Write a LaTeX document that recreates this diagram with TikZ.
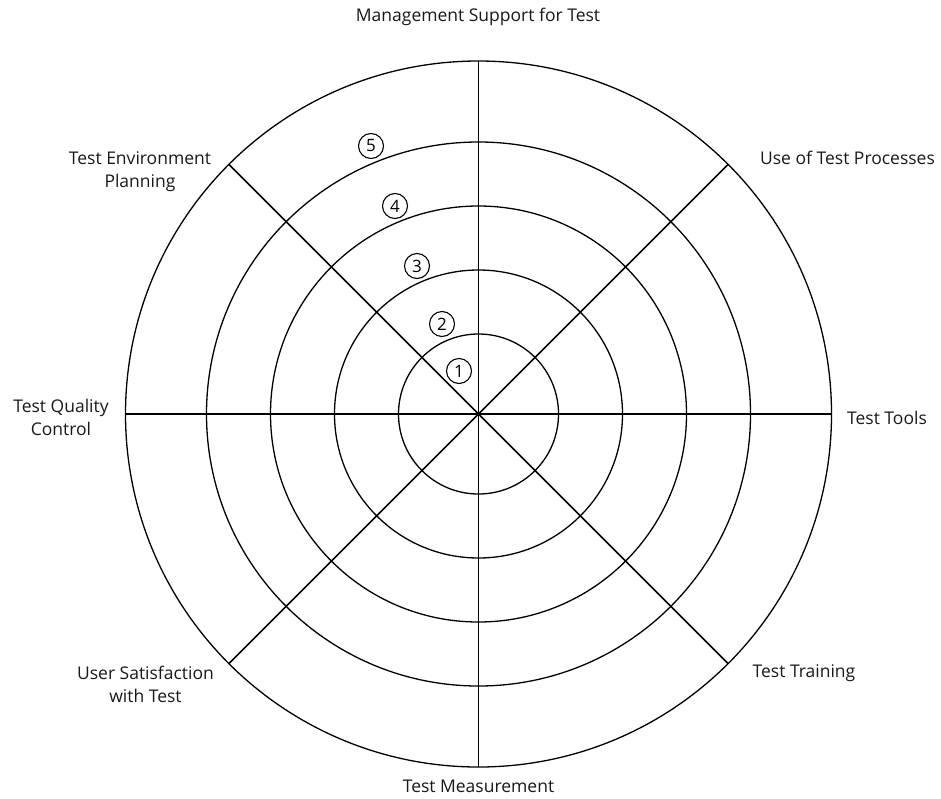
\documentclass[tikz,border=0pt]{standalone}
\usepackage{fontspec}
\setmainfont{Open Sans}
\usetikzlibrary{calc}
\begin{document}
\begin{tikzpicture}[x=1pt,y=-1pt,
  ring/.style={draw=black,line width=1.3pt},
  spoke/.style={draw=black,line width=1.5pt},
  axislabel/.style={font=\fontsize{17.5}{23}\selectfont,align=center,inner sep=0pt,text=black!90},
  level/.style={circle,draw=black,line width=1.1pt,minimum size=25pt,inner sep=0pt,font=\fontsize{17}{17}\selectfont}]
\useasboundingbox (0,0) rectangle (941,798);
\coordinate (c) at (478.5,414);
% concentric rings
\foreach \r in {80,144,208,272,353}
  \draw[ring] (c) circle[radius=\r];
% eight spokes across the whole wheel
\foreach \a in {0,45,90,135}{
  \coordinate (p\a) at ($(c)+(\a:353)$);
  \coordinate (q\a) at ($(c)+(\a+180:353)$);
  \draw[spoke] (p\a) -- (q\a);
}
% level markers
\node[level] (l1) at (459,371) {1};
\node[level] (l2) at (442,324) {2};
\node[level] (l3) at (417,266) {3};
\node[level] (l4) at (395,206) {4};
\node[level] (l5) at (371,146) {5};
% axis labels (base anchor sits on the last line)
\node[axislabel,anchor=base] (mgmt) at (478,21) {Management Support for Test};
\node[axislabel,anchor=base] (proc) at (847.5,164) {Use of Test Processes};
\node[axislabel,anchor=base] (env) at (140,187.5) {Test Environment\\Planning};
\node[axislabel,anchor=base] (qual) at (61,435) {Test Quality\\Control};
\node[axislabel,anchor=base] (tools) at (887,424) {Test Tools};
\node[axislabel,anchor=base] (user) at (145.5,702) {User Satisfaction\\with Test};
\node[axislabel,anchor=base] (train) at (804,677) {Test Training};
\node[axislabel,anchor=base] (meas) at (478.5,792) {Test Measurement};
\end{tikzpicture}
\end{document}
